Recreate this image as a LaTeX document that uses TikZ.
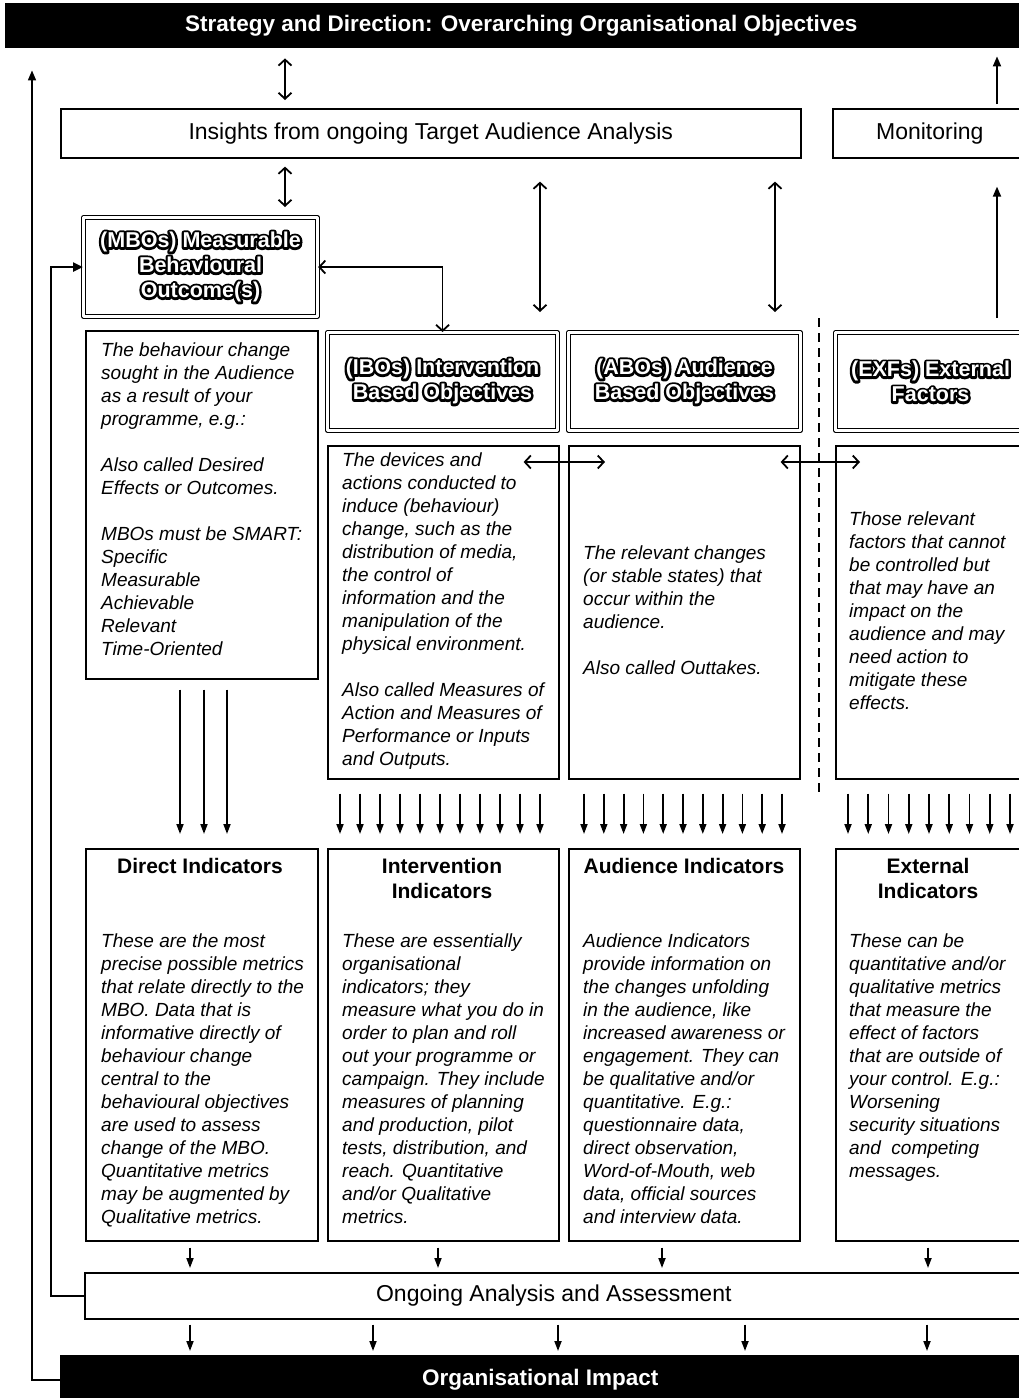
\documentclass[tikz,border=0pt]{standalone}
\usepackage{fontspec}
\setmainfont{Liberation Sans}
\newfontface\blobface{Liberation Sans Bold}[FakeBold=22]
\usetikzlibrary{arrows.meta}

\tikzset{
  box/.style={draw, line width=1.6pt, anchor=north west, inner sep=0pt},
  titlebox/.style={draw, line width=1.1pt, double, double distance=2.2pt,
    line join=round, anchor=north west, inner sep=0pt, text=white, align=center,
    font=\fontsize{21.5}{25}\selectfont\bfseries},
  banner/.style={fill=black, anchor=north west, inner sep=0pt, text=white,
    font=\fontsize{22.5}{25}\selectfont\bfseries},
  plainbox/.style={box, font=\fontsize{23}{26}\selectfont},
  desc/.style={anchor=north west, inner sep=0pt, align=left,
    font=\fontsize{19}{23}\selectfont\itshape},
  head/.style={anchor=north, inner sep=0pt, align=center,
    font=\fontsize{21}{25}\selectfont\bfseries},
  link/.style={line width=1.8pt},
  twoway/.style={link, {Straight Barb[length=6pt,width=13pt]}-{Straight Barb[length=6pt,width=13pt]}},
  down/.style={link, -{Triangle[length=10pt,width=7pt]}},
  up/.style={link, -{Triangle[length=10pt,width=8pt]}},
}

% white lettering on a black outline blob
\newcommand{\halo}[1]{\rlap{\blobface\color{black}#1}#1}

\begin{document}
\begin{tikzpicture}[x=1pt, y=-1pt]
\useasboundingbox (0,0) rectangle (1019,1398);

% banners
\node[banner, minimum width=1032, minimum height=45] (strategy) at (5,3)
  {Strategy and Direction: Overarching Organisational Objectives};
\node[banner, minimum width=960, minimum height=50] (impact) at (60,1355)
  {Organisational Impact};

% analysis boxes
\node[plainbox, minimum width=740, minimum height=49] (insights) at (60,108)
  {Insights from ongoing Target Audience Analysis};
\node[plainbox, minimum width=194, minimum height=49] (monitor) at (832,108)
  {Monitoring};
\node[plainbox, minimum width=938, minimum height=46] (ongoing) at (84,1272)
  {Ongoing Analysis and Assessment};

% objective title boxes
\node[titlebox, minimum width=234, minimum height=99] (mbo) at (83,217)
  {\halo{(MBOs) Measurable}\\\halo{Behavioural}\\\halo{Outcome(s)}};
\node[titlebox, minimum width=230, minimum height=98] (ibo) at (327,332)
  {\halo{(IBOs) Intervention}\\\halo{Based Objectives}};
\node[titlebox, minimum width=232, minimum height=98] (abo) at (568,332)
  {\halo{(ABOs) Audience}\\\halo{Based Objectives}};
\node[titlebox, minimum width=190, minimum height=98] (exf) at (835,332)
  {\halo{(EXFs) External}\\\halo{Factors}};

% description boxes
\node[box, minimum width=232, minimum height=348] (mbodesc) at (85,330) {};
\node[box, minimum width=231, minimum height=333] (ibodesc) at (327,445) {};
\node[box, minimum width=231, minimum height=333] (abodesc) at (568,445) {};
\node[box, minimum width=200, minimum height=333] (exfdesc) at (835,445) {};

\node[desc] (mbotxt) at (101,343) {The behaviour change\\sought in the Audience\\as a result of your\\programme, e.g.:\\[23pt]
Also called Desired\\Effects or Outcomes.\\[23pt]
MBOs must be SMART:\\Specific\\Measurable\\Achievable\\Relevant\\Time-Oriented};
\node[desc] (ibotxt) at (342,453) {The devices and\\actions conducted to\\induce (behaviour)\\change, such as the\\distribution of media,\\the control of\\information and the\\manipulation of the\\physical environment.\\[23pt]
Also called Measures of\\Action and Measures of\\Performance or Inputs\\and Outputs.};
\node[desc] (abotxt) at (583,546) {The relevant changes\\(or stable states) that\\occur within the\\audience.\\[23pt]
Also called Outtakes.};
\node[desc] (exftxt) at (849,512) {Those relevant\\factors that cannot\\be controlled but\\that may have an\\impact on the\\audience and may\\need action to\\mitigate these\\effects.};

% indicator boxes
\node[box, minimum width=232, minimum height=392] (direct) at (85,848) {};
\node[box, minimum width=231, minimum height=392] (intind) at (327,848) {};
\node[box, minimum width=231, minimum height=392] (audind) at (568,848) {};
\node[box, minimum width=200, minimum height=392] (extind) at (835,848) {};

\node[head] (directhd) at (200,858) {Direct Indicators};
\node[head] (intindhd) at (442,858) {Intervention\\Indicators};
\node[head] (audindhd) at (684,858) {Audience Indicators};
\node[head] (extindhd) at (928,858) {External\\Indicators};

\node[desc] (directtxt) at (101,934) {These are the most\\precise possible metrics\\that relate directly to the\\MBO. Data that is\\informative directly of\\behaviour change\\central to the\\behavioural objectives\\are used to assess\\change of the MBO.\\Quantitative metrics\\may be augmented by\\Qualitative metrics.};
\node[desc] (intindtxt) at (342,934) {These are essentially\\organisational\\indicators; they\\measure what you do in\\order to plan and roll\\out your programme or\\campaign. They include\\measures of planning\\and production, pilot\\tests, distribution, and\\reach. Quantitative\\and/or Qualitative\\metrics.};
\node[desc] (audindtxt) at (583,934) {Audience Indicators\\provide information on\\the changes unfolding\\in the audience, like\\increased awareness or\\engagement. They can\\be qualitative and/or\\quantitative. E.g.:\\questionnaire data,\\direct observation,\\Word-of-Mouth, web\\data, official sources\\and interview data.};
\node[desc] (extindtxt) at (849,934) {These can be\\quantitative and/or\\qualitative metrics\\that measure the\\effect of factors\\that are outside of\\your control. E.g.:\\Worsening\\security situations\\and\ \ competing\\messages.};

% separation of controllable and external factors
\draw[line width=1.6pt, dash pattern=on 9pt off 6pt] (819,318) -- (819,795);

% connectors between strategy, analysis and objectives
\draw[twoway, shorten <=10pt, shorten >=8pt] (strategy.south -| 285,0) -- (insights.north -| 285,0);
\draw[twoway, shorten <=8pt, shorten >=10pt] (insights.south -| 285,0) -- (mbo.north -| 285,0);
\draw[twoway, shorten <=23pt, shorten >=20pt] (insights.south -| 540,0) -- (ibo.north -| 540,0);
\draw[twoway, shorten <=23pt, shorten >=20pt] (insights.south -| 775,0) -- (abo.north -| 775,0);
\draw[up, shorten <=4pt, shorten >=8pt] (monitor.north -| 997,0) -- (strategy.south -| 997,0);
\draw[up, shorten <=14pt, shorten >=28pt] (exf.north -| 997,0) -- (monitor.south -| 997,0);
\draw[twoway] (mbo.east) -| (ibo.north);

% links between description boxes
\draw[twoway] ([shift={(-36,17)}]ibodesc.north east) -- ([shift={(37,17)}]abodesc.north west);
\draw[twoway] ([shift={(-20,17)}]abodesc.north east) -- ([shift={(25,17)}]exfdesc.north west);

% objectives feed their indicators
\foreach \x in {180,204,227}
  \draw[down, shorten <=10pt, shorten >=14pt] (mbodesc.south -| \x,0) -- (direct.north -| \x,0);
\foreach \i in {0,...,10}
  \draw[down, shorten <=14pt, shorten >=14pt] (ibodesc.south -| {340+20*\i},0) -- (intind.north -| {340+20*\i},0);
\foreach \i in {0,...,10}
  \draw[down, shorten <=14pt, shorten >=14pt] (abodesc.south -| {584+19.8*\i},0) -- (audind.north -| {584+19.8*\i},0);
\foreach \i in {0,...,8}
  \draw[down, shorten <=14pt, shorten >=14pt] (exfdesc.south -| {848+20.25*\i},0) -- (extind.north -| {848+20.25*\i},0);

% indicators feed the ongoing analysis
\draw[down, shorten <=6pt, shorten >=4pt] (direct.south -| 190,0) -- (ongoing.north -| 190,0);
\draw[down, shorten <=6pt, shorten >=4pt] (intind.south -| 438,0) -- (ongoing.north -| 438,0);
\draw[down, shorten <=6pt, shorten >=4pt] (audind.south -| 662,0) -- (ongoing.north -| 662,0);
\draw[down, shorten <=6pt, shorten >=4pt] (extind.south -| 928,0) -- (ongoing.north -| 928,0);

% analysis feeds organisational impact
\foreach \x in {190,373,558,745,927}
  \draw[down, shorten <=5pt, shorten >=4pt] (ongoing.south -| \x,0) -- (impact.north -| \x,0);

% feedback loops
\draw[link, line width=2.6pt, -{Triangle[length=10pt,width=9pt]}] (ongoing.west) -- (ongoing.west -| 51,0) |- (mbo.west);
\draw[line width=1.5pt, -{Triangle[length=10pt,width=8pt]}, shorten >=22pt] (impact.west) -| (strategy.south -| 32,0);
\end{tikzpicture}
\end{document}
